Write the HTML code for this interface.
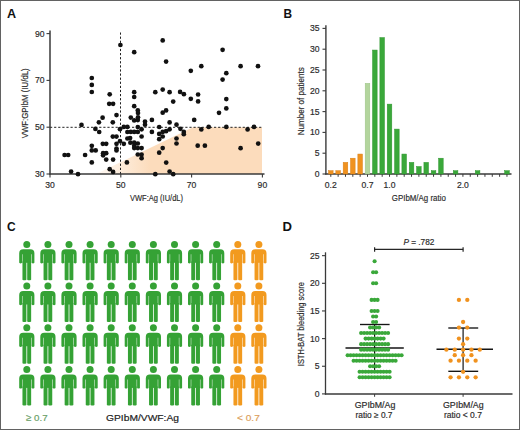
<!DOCTYPE html>
<html><head><meta charset="utf-8"><style>
html,body{margin:0;padding:0;background:#fff;}
body{width:520px;height:430px;overflow:hidden;}
svg{display:block;font-family:"Liberation Sans", sans-serif;}

</style></head><body>
<svg width="520" height="430" viewBox="0 0 520 430">
<rect x="0" y="0" width="520" height="430" fill="#fff"/>
<text transform="translate(6.9,17.5) scale(1.0,1)" font-size="12.6" font-weight="bold" fill="#111">A</text>
<defs><linearGradient id="pg" gradientUnits="userSpaceOnUse" x1="96" y1="0" x2="150" y2="0"><stop offset="0" stop-color="#fcdcbc" stop-opacity="0.15"/><stop offset="1" stop-color="#fcdcbc" stop-opacity="1"/></linearGradient></defs>
<polygon points="96,174 193,127.3 262,127.3 262,174" fill="url(#pg)"/>
<line x1="120.5" y1="32.5" x2="120.5" y2="174" stroke="#222" stroke-width="1.0" stroke-dasharray="2.2,1.9"/>
<line x1="50" y1="127.3" x2="262" y2="127.3" stroke="#222" stroke-width="1.0" stroke-dasharray="2.2,1.9"/>
<line x1="50" y1="30.5" x2="50" y2="174.6" stroke="#3a3a3a" stroke-width="1.5" />
<line x1="49.4" y1="174" x2="264.5" y2="174" stroke="#3a3a3a" stroke-width="1.5" />
<line x1="46.5" y1="174.0" x2="50" y2="174.0" stroke="#3a3a3a" stroke-width="1.1" />
<text x="44.5" y="177.0" font-size="8.6" text-anchor="end" fill="#2c2c2c" stroke="#2c2c2c" stroke-width="0.18" font-weight="normal" font-style="normal" >30</text>
<line x1="46.5" y1="127.2" x2="50" y2="127.2" stroke="#3a3a3a" stroke-width="1.1" />
<text x="44.5" y="130.2" font-size="8.6" text-anchor="end" fill="#2c2c2c" stroke="#2c2c2c" stroke-width="0.18" font-weight="normal" font-style="normal" >50</text>
<line x1="46.5" y1="80.4" x2="50" y2="80.4" stroke="#3a3a3a" stroke-width="1.1" />
<text x="44.5" y="83.4" font-size="8.6" text-anchor="end" fill="#2c2c2c" stroke="#2c2c2c" stroke-width="0.18" font-weight="normal" font-style="normal" >70</text>
<line x1="46.5" y1="33.60000000000002" x2="50" y2="33.60000000000002" stroke="#3a3a3a" stroke-width="1.1" />
<text x="44.5" y="36.60000000000002" font-size="8.6" text-anchor="end" fill="#2c2c2c" stroke="#2c2c2c" stroke-width="0.18" font-weight="normal" font-style="normal" >90</text>
<line x1="50.0" y1="174" x2="50.0" y2="177.5" stroke="#3a3a3a" stroke-width="1.1" />
<text x="50.0" y="188.2" font-size="8.6" text-anchor="middle" fill="#2c2c2c" stroke="#2c2c2c" stroke-width="0.18" font-weight="normal" font-style="normal" >30</text>
<line x1="120.8" y1="174" x2="120.8" y2="177.5" stroke="#3a3a3a" stroke-width="1.1" />
<text x="120.8" y="188.2" font-size="8.6" text-anchor="middle" fill="#2c2c2c" stroke="#2c2c2c" stroke-width="0.18" font-weight="normal" font-style="normal" >50</text>
<line x1="191.6" y1="174" x2="191.6" y2="177.5" stroke="#3a3a3a" stroke-width="1.1" />
<text x="191.6" y="188.2" font-size="8.6" text-anchor="middle" fill="#2c2c2c" stroke="#2c2c2c" stroke-width="0.18" font-weight="normal" font-style="normal" >70</text>
<line x1="262.4" y1="174" x2="262.4" y2="177.5" stroke="#3a3a3a" stroke-width="1.1" />
<text x="262.4" y="188.2" font-size="8.6" text-anchor="middle" fill="#2c2c2c" stroke="#2c2c2c" stroke-width="0.18" font-weight="normal" font-style="normal" >90</text>
<text x="156.5" y="201" font-size="9.5" text-anchor="middle" fill="#2c2c2c" stroke="#2c2c2c" stroke-width="0.18" font-weight="normal" font-style="normal" textLength="53" lengthAdjust="spacingAndGlyphs" >VWF:Ag (IU/dL)</text>
<text transform="translate(28.2,103.3) rotate(-90)" x="0" y="0" font-size="9.6" text-anchor="middle" fill="#2c2c2c" stroke="#2c2c2c" stroke-width="0.18" textLength="70" lengthAdjust="spacingAndGlyphs">VWF:GPIbM (IU/dL)</text>
<circle cx="91.8" cy="78" r="2.35" fill="#111"/>
<circle cx="91.8" cy="84.9" r="2.35" fill="#111"/>
<circle cx="91.8" cy="92" r="2.35" fill="#111"/>
<circle cx="109.7" cy="94.3" r="2.35" fill="#111"/>
<circle cx="109.2" cy="103.8" r="2.35" fill="#111"/>
<circle cx="113.1" cy="103.8" r="2.35" fill="#111"/>
<circle cx="116.5" cy="115.1" r="2.35" fill="#111"/>
<circle cx="102.6" cy="117.7" r="2.35" fill="#111"/>
<circle cx="98.9" cy="122.3" r="2.35" fill="#111"/>
<circle cx="112.8" cy="122.3" r="2.35" fill="#111"/>
<circle cx="81.5" cy="124.9" r="2.35" fill="#111"/>
<circle cx="95.4" cy="128.9" r="2.35" fill="#111"/>
<circle cx="99.2" cy="132" r="2.35" fill="#111"/>
<circle cx="120" cy="129.2" r="2.35" fill="#111"/>
<circle cx="123.8" cy="126.9" r="2.35" fill="#111"/>
<circle cx="127.4" cy="126.9" r="2.35" fill="#111"/>
<circle cx="127.4" cy="132" r="2.35" fill="#111"/>
<circle cx="112.8" cy="136.6" r="2.35" fill="#111"/>
<circle cx="116.5" cy="136.6" r="2.35" fill="#111"/>
<circle cx="127.4" cy="138.5" r="2.35" fill="#111"/>
<circle cx="120" cy="141.2" r="2.35" fill="#111"/>
<circle cx="102.8" cy="143.8" r="2.35" fill="#111"/>
<circle cx="106.2" cy="143.8" r="2.35" fill="#111"/>
<circle cx="116.5" cy="143.8" r="2.35" fill="#111"/>
<circle cx="123.8" cy="143.8" r="2.35" fill="#111"/>
<circle cx="91.8" cy="145.8" r="2.35" fill="#111"/>
<circle cx="116.5" cy="148.5" r="2.35" fill="#111"/>
<circle cx="116.5" cy="150.4" r="2.35" fill="#111"/>
<circle cx="91.8" cy="150.4" r="2.35" fill="#111"/>
<circle cx="95.7" cy="150.4" r="2.35" fill="#111"/>
<circle cx="103.1" cy="153.2" r="2.35" fill="#111"/>
<circle cx="106.2" cy="153.2" r="2.35" fill="#111"/>
<circle cx="103.1" cy="155.3" r="2.35" fill="#111"/>
<circle cx="64.6" cy="155" r="2.35" fill="#111"/>
<circle cx="68.2" cy="155" r="2.35" fill="#111"/>
<circle cx="85.1" cy="155" r="2.35" fill="#111"/>
<circle cx="106.2" cy="159.6" r="2.35" fill="#111"/>
<circle cx="113.1" cy="159.6" r="2.35" fill="#111"/>
<circle cx="91.8" cy="162.4" r="2.35" fill="#111"/>
<circle cx="126.9" cy="162.4" r="2.35" fill="#111"/>
<circle cx="109.7" cy="169.2" r="2.35" fill="#111"/>
<circle cx="113.1" cy="171.9" r="2.35" fill="#111"/>
<circle cx="71.1" cy="171.6" r="2.35" fill="#111"/>
<circle cx="78" cy="174.2" r="2.35" fill="#111"/>
<circle cx="120.4" cy="45" r="2.35" fill="#111"/>
<circle cx="134.2" cy="52.2" r="2.35" fill="#111"/>
<circle cx="162.7" cy="40.4" r="2.35" fill="#111"/>
<circle cx="166.1" cy="61.6" r="2.35" fill="#111"/>
<circle cx="190.8" cy="70.8" r="2.35" fill="#111"/>
<circle cx="134.2" cy="92.2" r="2.35" fill="#111"/>
<circle cx="134.2" cy="97" r="2.35" fill="#111"/>
<circle cx="155.3" cy="92.2" r="2.35" fill="#111"/>
<circle cx="162.7" cy="89.6" r="2.35" fill="#111"/>
<circle cx="169.6" cy="92.2" r="2.35" fill="#111"/>
<circle cx="180.1" cy="91.9" r="2.35" fill="#111"/>
<circle cx="183.9" cy="94.2" r="2.35" fill="#111"/>
<circle cx="190.8" cy="98.8" r="2.35" fill="#111"/>
<circle cx="173.2" cy="101.6" r="2.35" fill="#111"/>
<circle cx="134.2" cy="106.2" r="2.35" fill="#111"/>
<circle cx="137.8" cy="110.4" r="2.35" fill="#111"/>
<circle cx="138" cy="113" r="2.35" fill="#111"/>
<circle cx="166.1" cy="110.4" r="2.35" fill="#111"/>
<circle cx="162.7" cy="112.7" r="2.35" fill="#111"/>
<circle cx="130.8" cy="117.6" r="2.35" fill="#111"/>
<circle cx="134.2" cy="120.4" r="2.35" fill="#111"/>
<circle cx="137.8" cy="120.1" r="2.35" fill="#111"/>
<circle cx="138" cy="117.3" r="2.35" fill="#111"/>
<circle cx="145" cy="121.6" r="2.35" fill="#111"/>
<circle cx="145" cy="124.7" r="2.35" fill="#111"/>
<circle cx="151.9" cy="119.9" r="2.35" fill="#111"/>
<circle cx="169.6" cy="122.4" r="2.35" fill="#111"/>
<circle cx="176.5" cy="124.7" r="2.35" fill="#111"/>
<circle cx="194.2" cy="119.9" r="2.35" fill="#111"/>
<circle cx="137.8" cy="127" r="2.35" fill="#111"/>
<circle cx="141.6" cy="129.3" r="2.35" fill="#111"/>
<circle cx="130.8" cy="131.9" r="2.35" fill="#111"/>
<circle cx="134.2" cy="131.9" r="2.35" fill="#111"/>
<circle cx="137.8" cy="131.9" r="2.35" fill="#111"/>
<circle cx="151.9" cy="131.9" r="2.35" fill="#111"/>
<circle cx="159.2" cy="127" r="2.35" fill="#111"/>
<circle cx="159.2" cy="133.9" r="2.35" fill="#111"/>
<circle cx="162.7" cy="131.9" r="2.35" fill="#111"/>
<circle cx="166.1" cy="131.2" r="2.35" fill="#111"/>
<circle cx="169.6" cy="129.3" r="2.35" fill="#111"/>
<circle cx="180.4" cy="128.8" r="2.35" fill="#111"/>
<circle cx="183.8" cy="131.9" r="2.35" fill="#111"/>
<circle cx="183.8" cy="134.2" r="2.35" fill="#111"/>
<circle cx="141.6" cy="136.5" r="2.35" fill="#111"/>
<circle cx="130.1" cy="138.1" r="2.35" fill="#111"/>
<circle cx="162.7" cy="136.5" r="2.35" fill="#111"/>
<circle cx="159.2" cy="139.2" r="2.35" fill="#111"/>
<circle cx="176.5" cy="138.5" r="2.35" fill="#111"/>
<circle cx="176.5" cy="143.5" r="2.35" fill="#111"/>
<circle cx="130.4" cy="142.7" r="2.35" fill="#111"/>
<circle cx="134.2" cy="142.7" r="2.35" fill="#111"/>
<circle cx="137.8" cy="143.5" r="2.35" fill="#111"/>
<circle cx="134.2" cy="145.8" r="2.35" fill="#111"/>
<circle cx="134.2" cy="148.1" r="2.35" fill="#111"/>
<circle cx="137.8" cy="148.1" r="2.35" fill="#111"/>
<circle cx="141.6" cy="148.1" r="2.35" fill="#111"/>
<circle cx="162.7" cy="148.1" r="2.35" fill="#111"/>
<circle cx="159.2" cy="152.7" r="2.35" fill="#111"/>
<circle cx="137.8" cy="154.5" r="2.35" fill="#111"/>
<circle cx="141.6" cy="154.5" r="2.35" fill="#111"/>
<circle cx="141.6" cy="158.2" r="2.35" fill="#111"/>
<circle cx="166.2" cy="162.6" r="2.35" fill="#111"/>
<circle cx="169.6" cy="171.5" r="2.35" fill="#111"/>
<circle cx="173.2" cy="174.2" r="2.35" fill="#111"/>
<circle cx="155.3" cy="174.2" r="2.35" fill="#111"/>
<circle cx="222.6" cy="49.8" r="2.35" fill="#111"/>
<circle cx="201.3" cy="66.2" r="2.35" fill="#111"/>
<circle cx="240.6" cy="66.2" r="2.35" fill="#111"/>
<circle cx="258" cy="66.2" r="2.35" fill="#111"/>
<circle cx="226.3" cy="73.2" r="2.35" fill="#111"/>
<circle cx="222.6" cy="79.6" r="2.35" fill="#111"/>
<circle cx="198.1" cy="94.5" r="2.35" fill="#111"/>
<circle cx="198.1" cy="101.4" r="2.35" fill="#111"/>
<circle cx="226.3" cy="99.1" r="2.35" fill="#111"/>
<circle cx="226.3" cy="108.4" r="2.35" fill="#111"/>
<circle cx="219" cy="112.8" r="2.35" fill="#111"/>
<circle cx="201.3" cy="129.4" r="2.35" fill="#111"/>
<circle cx="208.7" cy="126.9" r="2.35" fill="#111"/>
<circle cx="226.3" cy="126.9" r="2.35" fill="#111"/>
<circle cx="247.6" cy="129.4" r="2.35" fill="#111"/>
<circle cx="254" cy="126.9" r="2.35" fill="#111"/>
<circle cx="197.7" cy="145.7" r="2.35" fill="#111"/>
<circle cx="204.9" cy="145.7" r="2.35" fill="#111"/>
<circle cx="240.6" cy="148.2" r="2.35" fill="#111"/>
<circle cx="258.2" cy="143.6" r="2.35" fill="#111"/>
<text transform="translate(283.5,17.6) scale(0.9,1)" font-size="13.2" font-weight="bold" fill="#111">B</text>
<line x1="325.9" y1="25.2" x2="325.9" y2="174.6" stroke="#3a3a3a" stroke-width="1.4" />
<line x1="325.2" y1="174" x2="511.5" y2="174" stroke="#3a3a3a" stroke-width="1.3" />
<line x1="322.5" y1="174.0" x2="325.9" y2="174.0" stroke="#3a3a3a" stroke-width="1.1" />
<text x="319.5" y="177.0" font-size="8.6" text-anchor="end" fill="#2c2c2c" stroke="#2c2c2c" stroke-width="0.18" font-weight="normal" font-style="normal" >0</text>
<line x1="322.5" y1="153.2" x2="325.9" y2="153.2" stroke="#3a3a3a" stroke-width="1.1" />
<text x="319.5" y="156.2" font-size="8.6" text-anchor="end" fill="#2c2c2c" stroke="#2c2c2c" stroke-width="0.18" font-weight="normal" font-style="normal" >5</text>
<line x1="322.5" y1="132.4" x2="325.9" y2="132.4" stroke="#3a3a3a" stroke-width="1.1" />
<text x="319.5" y="135.4" font-size="8.6" text-anchor="end" fill="#2c2c2c" stroke="#2c2c2c" stroke-width="0.18" font-weight="normal" font-style="normal" >10</text>
<line x1="322.5" y1="111.6" x2="325.9" y2="111.6" stroke="#3a3a3a" stroke-width="1.1" />
<text x="319.5" y="114.6" font-size="8.6" text-anchor="end" fill="#2c2c2c" stroke="#2c2c2c" stroke-width="0.18" font-weight="normal" font-style="normal" >15</text>
<line x1="322.5" y1="90.8" x2="325.9" y2="90.8" stroke="#3a3a3a" stroke-width="1.1" />
<text x="319.5" y="93.8" font-size="8.6" text-anchor="end" fill="#2c2c2c" stroke="#2c2c2c" stroke-width="0.18" font-weight="normal" font-style="normal" >20</text>
<line x1="322.5" y1="70.0" x2="325.9" y2="70.0" stroke="#3a3a3a" stroke-width="1.1" />
<text x="319.5" y="73.0" font-size="8.6" text-anchor="end" fill="#2c2c2c" stroke="#2c2c2c" stroke-width="0.18" font-weight="normal" font-style="normal" >25</text>
<line x1="322.5" y1="49.19999999999999" x2="325.9" y2="49.19999999999999" stroke="#3a3a3a" stroke-width="1.1" />
<text x="319.5" y="52.19999999999999" font-size="8.6" text-anchor="end" fill="#2c2c2c" stroke="#2c2c2c" stroke-width="0.18" font-weight="normal" font-style="normal" >30</text>
<line x1="322.5" y1="28.400000000000006" x2="325.9" y2="28.400000000000006" stroke="#3a3a3a" stroke-width="1.1" />
<text x="319.5" y="31.400000000000006" font-size="8.6" text-anchor="end" fill="#2c2c2c" stroke="#2c2c2c" stroke-width="0.18" font-weight="normal" font-style="normal" >35</text>
<line x1="330.8" y1="174" x2="330.8" y2="176.8" stroke="#3a3a3a" stroke-width="1.0" />
<rect x="328.50" y="170.69" width="4.6" height="3.31" fill="#f0921f" stroke="#d98018" stroke-width="0.5"/>
<line x1="338.14" y1="174" x2="338.14" y2="176.8" stroke="#3a3a3a" stroke-width="1.0" />
<rect x="335.84" y="170.69" width="4.6" height="3.31" fill="#f0921f" stroke="#d98018" stroke-width="0.5"/>
<line x1="345.48" y1="174" x2="345.48" y2="176.8" stroke="#3a3a3a" stroke-width="1.0" />
<rect x="343.18" y="162.37" width="4.6" height="11.63" fill="#f0921f" stroke="#d98018" stroke-width="0.5"/>
<line x1="352.82" y1="174" x2="352.82" y2="176.8" stroke="#3a3a3a" stroke-width="1.0" />
<rect x="350.52" y="158.21" width="4.6" height="15.79" fill="#f0921f" stroke="#d98018" stroke-width="0.5"/>
<line x1="360.16" y1="174" x2="360.16" y2="176.8" stroke="#3a3a3a" stroke-width="1.0" />
<rect x="357.86" y="154.05" width="4.6" height="19.95" fill="#f0921f" stroke="#d98018" stroke-width="0.5"/>
<line x1="367.5" y1="174" x2="367.5" y2="176.8" stroke="#3a3a3a" stroke-width="1.0" />
<rect x="365.20" y="83.33" width="4.6" height="90.67" fill="#b3d59d" stroke="#9cc385" stroke-width="0.5"/>
<line x1="374.84000000000003" y1="174" x2="374.84000000000003" y2="176.8" stroke="#3a3a3a" stroke-width="1.0" />
<rect x="372.54" y="50.05" width="4.6" height="123.95" fill="#3aa83a" stroke="#2f952f" stroke-width="0.5"/>
<line x1="382.18" y1="174" x2="382.18" y2="176.8" stroke="#3a3a3a" stroke-width="1.0" />
<rect x="379.88" y="37.57" width="4.6" height="136.43" fill="#3aa83a" stroke="#2f952f" stroke-width="0.5"/>
<line x1="389.52" y1="174" x2="389.52" y2="176.8" stroke="#3a3a3a" stroke-width="1.0" />
<rect x="387.22" y="104.13" width="4.6" height="69.87" fill="#3aa83a" stroke="#2f952f" stroke-width="0.5"/>
<line x1="396.86" y1="174" x2="396.86" y2="176.8" stroke="#3a3a3a" stroke-width="1.0" />
<rect x="394.56" y="129.09" width="4.6" height="44.91" fill="#3aa83a" stroke="#2f952f" stroke-width="0.5"/>
<line x1="404.20000000000005" y1="174" x2="404.20000000000005" y2="176.8" stroke="#3a3a3a" stroke-width="1.0" />
<rect x="401.90" y="154.05" width="4.6" height="19.95" fill="#3aa83a" stroke="#2f952f" stroke-width="0.5"/>
<line x1="411.54" y1="174" x2="411.54" y2="176.8" stroke="#3a3a3a" stroke-width="1.0" />
<rect x="409.24" y="162.37" width="4.6" height="11.63" fill="#3aa83a" stroke="#2f952f" stroke-width="0.5"/>
<line x1="418.88" y1="174" x2="418.88" y2="176.8" stroke="#3a3a3a" stroke-width="1.0" />
<rect x="416.58" y="166.53" width="4.6" height="7.47" fill="#3aa83a" stroke="#2f952f" stroke-width="0.5"/>
<line x1="426.22" y1="174" x2="426.22" y2="176.8" stroke="#3a3a3a" stroke-width="1.0" />
<rect x="423.92" y="162.37" width="4.6" height="11.63" fill="#3aa83a" stroke="#2f952f" stroke-width="0.5"/>
<line x1="433.56" y1="174" x2="433.56" y2="176.8" stroke="#3a3a3a" stroke-width="1.0" />
<rect x="431.26" y="170.69" width="4.6" height="3.31" fill="#3aa83a" stroke="#2f952f" stroke-width="0.5"/>
<line x1="440.9" y1="174" x2="440.9" y2="176.8" stroke="#3a3a3a" stroke-width="1.0" />
<rect x="438.60" y="158.21" width="4.6" height="15.79" fill="#3aa83a" stroke="#2f952f" stroke-width="0.5"/>
<line x1="448.24" y1="174" x2="448.24" y2="176.8" stroke="#3a3a3a" stroke-width="1.0" />
<line x1="455.58000000000004" y1="174" x2="455.58000000000004" y2="176.8" stroke="#3a3a3a" stroke-width="1.0" />
<rect x="453.28" y="170.69" width="4.6" height="3.31" fill="#3aa83a" stroke="#2f952f" stroke-width="0.5"/>
<line x1="462.92" y1="174" x2="462.92" y2="176.8" stroke="#3a3a3a" stroke-width="1.0" />
<line x1="470.26" y1="174" x2="470.26" y2="176.8" stroke="#3a3a3a" stroke-width="1.0" />
<line x1="477.6" y1="174" x2="477.6" y2="176.8" stroke="#3a3a3a" stroke-width="1.0" />
<rect x="475.30" y="170.69" width="4.6" height="3.31" fill="#3aa83a" stroke="#2f952f" stroke-width="0.5"/>
<line x1="484.94" y1="174" x2="484.94" y2="176.8" stroke="#3a3a3a" stroke-width="1.0" />
<line x1="492.28" y1="174" x2="492.28" y2="176.8" stroke="#3a3a3a" stroke-width="1.0" />
<line x1="499.62" y1="174" x2="499.62" y2="176.8" stroke="#3a3a3a" stroke-width="1.0" />
<line x1="506.96000000000004" y1="174" x2="506.96000000000004" y2="176.8" stroke="#3a3a3a" stroke-width="1.0" />
<rect x="504.66" y="170.69" width="4.6" height="3.31" fill="#3aa83a" stroke="#2f952f" stroke-width="0.5"/>
<text x="330.8" y="188" font-size="8.6" text-anchor="middle" fill="#2c2c2c" stroke="#2c2c2c" stroke-width="0.18" font-weight="normal" font-style="normal" >0.2</text>
<text x="367.5" y="188" font-size="8.6" text-anchor="middle" fill="#2c2c2c" stroke="#2c2c2c" stroke-width="0.18" font-weight="normal" font-style="normal" >0.7</text>
<text x="389.52" y="188" font-size="8.6" text-anchor="middle" fill="#2c2c2c" stroke="#2c2c2c" stroke-width="0.18" font-weight="normal" font-style="normal" >1.0</text>
<text x="462.92" y="188" font-size="8.6" text-anchor="middle" fill="#2c2c2c" stroke="#2c2c2c" stroke-width="0.18" font-weight="normal" font-style="normal" >2.0</text>
<text x="418.8" y="201.4" font-size="9.5" text-anchor="middle" fill="#2c2c2c" stroke="#2c2c2c" stroke-width="0.18" font-weight="normal" font-style="normal" textLength="54" lengthAdjust="spacingAndGlyphs" >GPIbM/Ag ratio</text>
<text transform="translate(304,101.3) rotate(-90)" x="0" y="0" font-size="9.6" text-anchor="middle" fill="#2c2c2c" stroke="#2c2c2c" stroke-width="0.18" textLength="68" lengthAdjust="spacingAndGlyphs">Number of patients</text>
<text transform="translate(7.0,230.9) scale(0.92,1)" font-size="13" font-weight="bold" fill="#111">C</text>
<circle cx="26.8" cy="244.4" r="3.5" fill="#35a235"/><path d="M19.200000000000003,253.3 Q19.200000000000003,249.3 23.200000000000003,249.3 L30.4,249.3 Q34.4,249.3 34.4,253.3 L34.4,262.8 Q33.0,264.2 31.599999999999998,262.8 L31.599999999999998,254.3 L22.000000000000004,254.3 L22.000000000000004,262.8 Q20.6,264.2 19.200000000000003,262.8 Z" fill="#35a235"/><rect x="22.450000000000003" y="250.3" width="8.7" height="12.5" fill="#35a235"/><path d="M22.450000000000003,261.4 L26.400000000000002,261.4 L26.400000000000002,279.8 Q24.400000000000002,280.8 22.450000000000003,279.8 Z" fill="#35a235"/><path d="M27.2,261.4 L31.15,261.4 L31.15,279.8 Q29.2,280.8 27.2,279.8 Z" fill="#35a235"/>
<circle cx="47.900000000000006" cy="244.4" r="3.5" fill="#35a235"/><path d="M40.300000000000004,253.3 Q40.300000000000004,249.3 44.300000000000004,249.3 L51.50000000000001,249.3 Q55.50000000000001,249.3 55.50000000000001,253.3 L55.50000000000001,262.8 Q54.10000000000001,264.2 52.70000000000001,262.8 L52.70000000000001,254.3 L43.1,254.3 L43.1,262.8 Q41.7,264.2 40.300000000000004,262.8 Z" fill="#35a235"/><rect x="43.550000000000004" y="250.3" width="8.7" height="12.5" fill="#35a235"/><path d="M43.550000000000004,261.4 L47.50000000000001,261.4 L47.50000000000001,279.8 Q45.50000000000001,280.8 43.550000000000004,279.8 Z" fill="#35a235"/><path d="M48.300000000000004,261.4 L52.25000000000001,261.4 L52.25000000000001,279.8 Q50.300000000000004,280.8 48.300000000000004,279.8 Z" fill="#35a235"/>
<circle cx="69.0" cy="244.4" r="3.5" fill="#35a235"/><path d="M61.4,253.3 Q61.4,249.3 65.4,249.3 L72.6,249.3 Q76.6,249.3 76.6,253.3 L76.6,262.8 Q75.19999999999999,264.2 73.8,262.8 L73.8,254.3 L64.2,254.3 L64.2,262.8 Q62.8,264.2 61.4,262.8 Z" fill="#35a235"/><rect x="64.65" y="250.3" width="8.7" height="12.5" fill="#35a235"/><path d="M64.65,261.4 L68.6,261.4 L68.6,279.8 Q66.6,280.8 64.65,279.8 Z" fill="#35a235"/><path d="M69.4,261.4 L73.35,261.4 L73.35,279.8 Q71.4,280.8 69.4,279.8 Z" fill="#35a235"/>
<circle cx="90.10000000000001" cy="244.4" r="3.5" fill="#35a235"/><path d="M82.50000000000001,253.3 Q82.50000000000001,249.3 86.50000000000001,249.3 L93.7,249.3 Q97.7,249.3 97.7,253.3 L97.7,262.8 Q96.3,264.2 94.9,262.8 L94.9,254.3 L85.30000000000001,254.3 L85.30000000000001,262.8 Q83.90000000000002,264.2 82.50000000000001,262.8 Z" fill="#35a235"/><rect x="85.75000000000001" y="250.3" width="8.7" height="12.5" fill="#35a235"/><path d="M85.75000000000001,261.4 L89.7,261.4 L89.7,279.8 Q87.7,280.8 85.75000000000001,279.8 Z" fill="#35a235"/><path d="M90.50000000000001,261.4 L94.45,261.4 L94.45,279.8 Q92.50000000000001,280.8 90.50000000000001,279.8 Z" fill="#35a235"/>
<circle cx="111.2" cy="244.4" r="3.5" fill="#35a235"/><path d="M103.60000000000001,253.3 Q103.60000000000001,249.3 107.60000000000001,249.3 L114.8,249.3 Q118.8,249.3 118.8,253.3 L118.8,262.8 Q117.39999999999999,264.2 116.0,262.8 L116.0,254.3 L106.4,254.3 L106.4,262.8 Q105.00000000000001,264.2 103.60000000000001,262.8 Z" fill="#35a235"/><rect x="106.85000000000001" y="250.3" width="8.7" height="12.5" fill="#35a235"/><path d="M106.85000000000001,261.4 L110.8,261.4 L110.8,279.8 Q108.8,280.8 106.85000000000001,279.8 Z" fill="#35a235"/><path d="M111.60000000000001,261.4 L115.55,261.4 L115.55,279.8 Q113.60000000000001,280.8 111.60000000000001,279.8 Z" fill="#35a235"/>
<circle cx="132.3" cy="244.4" r="3.5" fill="#35a235"/><path d="M124.70000000000002,253.3 Q124.70000000000002,249.3 128.70000000000002,249.3 L135.9,249.3 Q139.9,249.3 139.9,253.3 L139.9,262.8 Q138.5,264.2 137.1,262.8 L137.1,254.3 L127.50000000000001,254.3 L127.50000000000001,262.8 Q126.10000000000002,264.2 124.70000000000002,262.8 Z" fill="#35a235"/><rect x="127.95000000000002" y="250.3" width="8.7" height="12.5" fill="#35a235"/><path d="M127.95000000000002,261.4 L131.9,261.4 L131.9,279.8 Q129.9,280.8 127.95000000000002,279.8 Z" fill="#35a235"/><path d="M132.70000000000002,261.4 L136.65,261.4 L136.65,279.8 Q134.70000000000002,280.8 132.70000000000002,279.8 Z" fill="#35a235"/>
<circle cx="153.4" cy="244.4" r="3.5" fill="#35a235"/><path d="M145.8,253.3 Q145.8,249.3 149.8,249.3 L157.0,249.3 Q161.0,249.3 161.0,253.3 L161.0,262.8 Q159.6,264.2 158.2,262.8 L158.2,254.3 L148.60000000000002,254.3 L148.60000000000002,262.8 Q147.20000000000002,264.2 145.8,262.8 Z" fill="#35a235"/><rect x="149.05" y="250.3" width="8.7" height="12.5" fill="#35a235"/><path d="M149.05,261.4 L153.0,261.4 L153.0,279.8 Q151.0,280.8 149.05,279.8 Z" fill="#35a235"/><path d="M153.8,261.4 L157.75,261.4 L157.75,279.8 Q155.8,280.8 153.8,279.8 Z" fill="#35a235"/>
<circle cx="174.50000000000003" cy="244.4" r="3.5" fill="#35a235"/><path d="M166.90000000000003,253.3 Q166.90000000000003,249.3 170.90000000000003,249.3 L178.10000000000002,249.3 Q182.10000000000002,249.3 182.10000000000002,253.3 L182.10000000000002,262.8 Q180.70000000000002,264.2 179.3,262.8 L179.3,254.3 L169.70000000000005,254.3 L169.70000000000005,262.8 Q168.30000000000004,264.2 166.90000000000003,262.8 Z" fill="#35a235"/><rect x="170.15000000000003" y="250.3" width="8.7" height="12.5" fill="#35a235"/><path d="M170.15000000000003,261.4 L174.10000000000002,261.4 L174.10000000000002,279.8 Q172.10000000000002,280.8 170.15000000000003,279.8 Z" fill="#35a235"/><path d="M174.90000000000003,261.4 L178.85000000000002,261.4 L178.85000000000002,279.8 Q176.90000000000003,280.8 174.90000000000003,279.8 Z" fill="#35a235"/>
<circle cx="195.60000000000002" cy="244.4" r="3.5" fill="#35a235"/><path d="M188.00000000000003,253.3 Q188.00000000000003,249.3 192.00000000000003,249.3 L199.20000000000002,249.3 Q203.20000000000002,249.3 203.20000000000002,253.3 L203.20000000000002,262.8 Q201.8,264.2 200.4,262.8 L200.4,254.3 L190.80000000000004,254.3 L190.80000000000004,262.8 Q189.40000000000003,264.2 188.00000000000003,262.8 Z" fill="#35a235"/><rect x="191.25000000000003" y="250.3" width="8.7" height="12.5" fill="#35a235"/><path d="M191.25000000000003,261.4 L195.20000000000002,261.4 L195.20000000000002,279.8 Q193.20000000000002,280.8 191.25000000000003,279.8 Z" fill="#35a235"/><path d="M196.00000000000003,261.4 L199.95000000000002,261.4 L199.95000000000002,279.8 Q198.00000000000003,280.8 196.00000000000003,279.8 Z" fill="#35a235"/>
<circle cx="216.70000000000002" cy="244.4" r="3.5" fill="#35a235"/><path d="M209.10000000000002,253.3 Q209.10000000000002,249.3 213.10000000000002,249.3 L220.3,249.3 Q224.3,249.3 224.3,253.3 L224.3,262.8 Q222.9,264.2 221.5,262.8 L221.5,254.3 L211.90000000000003,254.3 L211.90000000000003,262.8 Q210.50000000000003,264.2 209.10000000000002,262.8 Z" fill="#35a235"/><rect x="212.35000000000002" y="250.3" width="8.7" height="12.5" fill="#35a235"/><path d="M212.35000000000002,261.4 L216.3,261.4 L216.3,279.8 Q214.3,280.8 212.35000000000002,279.8 Z" fill="#35a235"/><path d="M217.10000000000002,261.4 L221.05,261.4 L221.05,279.8 Q219.10000000000002,280.8 217.10000000000002,279.8 Z" fill="#35a235"/>
<circle cx="237.8" cy="244.4" r="3.5" fill="#f29a1f"/><path d="M230.20000000000002,253.3 Q230.20000000000002,249.3 234.20000000000002,249.3 L241.4,249.3 Q245.4,249.3 245.4,253.3 L245.4,262.8 Q244.0,264.2 242.6,262.8 L242.6,254.3 L233.00000000000003,254.3 L233.00000000000003,262.8 Q231.60000000000002,264.2 230.20000000000002,262.8 Z" fill="#f29a1f"/><rect x="233.45000000000002" y="250.3" width="8.7" height="12.5" fill="#f29a1f"/><path d="M233.45000000000002,261.4 L237.4,261.4 L237.4,279.8 Q235.4,280.8 233.45000000000002,279.8 Z" fill="#f29a1f"/><path d="M238.20000000000002,261.4 L242.15,261.4 L242.15,279.8 Q240.20000000000002,280.8 238.20000000000002,279.8 Z" fill="#f29a1f"/>
<circle cx="258.90000000000003" cy="244.4" r="3.5" fill="#f29a1f"/><path d="M251.30000000000004,253.3 Q251.30000000000004,249.3 255.30000000000004,249.3 L262.50000000000006,249.3 Q266.50000000000006,249.3 266.50000000000006,253.3 L266.50000000000006,262.8 Q265.1000000000001,264.2 263.70000000000005,262.8 L263.70000000000005,254.3 L254.10000000000005,254.3 L254.10000000000005,262.8 Q252.70000000000005,264.2 251.30000000000004,262.8 Z" fill="#f29a1f"/><rect x="254.55000000000004" y="250.3" width="8.7" height="12.5" fill="#f29a1f"/><path d="M254.55000000000004,261.4 L258.50000000000006,261.4 L258.50000000000006,279.8 Q256.50000000000006,280.8 254.55000000000004,279.8 Z" fill="#f29a1f"/><path d="M259.3,261.4 L263.25000000000006,261.4 L263.25000000000006,279.8 Q261.3,280.8 259.3,279.8 Z" fill="#f29a1f"/>
<circle cx="26.8" cy="286.1" r="3.5" fill="#35a235"/><path d="M19.200000000000003,295.0 Q19.200000000000003,291.0 23.200000000000003,291.0 L30.4,291.0 Q34.4,291.0 34.4,295.0 L34.4,304.5 Q33.0,305.90000000000003 31.599999999999998,304.5 L31.599999999999998,296.0 L22.000000000000004,296.0 L22.000000000000004,304.5 Q20.6,305.90000000000003 19.200000000000003,304.5 Z" fill="#35a235"/><rect x="22.450000000000003" y="292.0" width="8.7" height="12.5" fill="#35a235"/><path d="M22.450000000000003,303.1 L26.400000000000002,303.1 L26.400000000000002,321.5 Q24.400000000000002,322.5 22.450000000000003,321.5 Z" fill="#35a235"/><path d="M27.2,303.1 L31.15,303.1 L31.15,321.5 Q29.2,322.5 27.2,321.5 Z" fill="#35a235"/>
<circle cx="47.900000000000006" cy="286.1" r="3.5" fill="#35a235"/><path d="M40.300000000000004,295.0 Q40.300000000000004,291.0 44.300000000000004,291.0 L51.50000000000001,291.0 Q55.50000000000001,291.0 55.50000000000001,295.0 L55.50000000000001,304.5 Q54.10000000000001,305.90000000000003 52.70000000000001,304.5 L52.70000000000001,296.0 L43.1,296.0 L43.1,304.5 Q41.7,305.90000000000003 40.300000000000004,304.5 Z" fill="#35a235"/><rect x="43.550000000000004" y="292.0" width="8.7" height="12.5" fill="#35a235"/><path d="M43.550000000000004,303.1 L47.50000000000001,303.1 L47.50000000000001,321.5 Q45.50000000000001,322.5 43.550000000000004,321.5 Z" fill="#35a235"/><path d="M48.300000000000004,303.1 L52.25000000000001,303.1 L52.25000000000001,321.5 Q50.300000000000004,322.5 48.300000000000004,321.5 Z" fill="#35a235"/>
<circle cx="69.0" cy="286.1" r="3.5" fill="#35a235"/><path d="M61.4,295.0 Q61.4,291.0 65.4,291.0 L72.6,291.0 Q76.6,291.0 76.6,295.0 L76.6,304.5 Q75.19999999999999,305.90000000000003 73.8,304.5 L73.8,296.0 L64.2,296.0 L64.2,304.5 Q62.8,305.90000000000003 61.4,304.5 Z" fill="#35a235"/><rect x="64.65" y="292.0" width="8.7" height="12.5" fill="#35a235"/><path d="M64.65,303.1 L68.6,303.1 L68.6,321.5 Q66.6,322.5 64.65,321.5 Z" fill="#35a235"/><path d="M69.4,303.1 L73.35,303.1 L73.35,321.5 Q71.4,322.5 69.4,321.5 Z" fill="#35a235"/>
<circle cx="90.10000000000001" cy="286.1" r="3.5" fill="#35a235"/><path d="M82.50000000000001,295.0 Q82.50000000000001,291.0 86.50000000000001,291.0 L93.7,291.0 Q97.7,291.0 97.7,295.0 L97.7,304.5 Q96.3,305.90000000000003 94.9,304.5 L94.9,296.0 L85.30000000000001,296.0 L85.30000000000001,304.5 Q83.90000000000002,305.90000000000003 82.50000000000001,304.5 Z" fill="#35a235"/><rect x="85.75000000000001" y="292.0" width="8.7" height="12.5" fill="#35a235"/><path d="M85.75000000000001,303.1 L89.7,303.1 L89.7,321.5 Q87.7,322.5 85.75000000000001,321.5 Z" fill="#35a235"/><path d="M90.50000000000001,303.1 L94.45,303.1 L94.45,321.5 Q92.50000000000001,322.5 90.50000000000001,321.5 Z" fill="#35a235"/>
<circle cx="111.2" cy="286.1" r="3.5" fill="#35a235"/><path d="M103.60000000000001,295.0 Q103.60000000000001,291.0 107.60000000000001,291.0 L114.8,291.0 Q118.8,291.0 118.8,295.0 L118.8,304.5 Q117.39999999999999,305.90000000000003 116.0,304.5 L116.0,296.0 L106.4,296.0 L106.4,304.5 Q105.00000000000001,305.90000000000003 103.60000000000001,304.5 Z" fill="#35a235"/><rect x="106.85000000000001" y="292.0" width="8.7" height="12.5" fill="#35a235"/><path d="M106.85000000000001,303.1 L110.8,303.1 L110.8,321.5 Q108.8,322.5 106.85000000000001,321.5 Z" fill="#35a235"/><path d="M111.60000000000001,303.1 L115.55,303.1 L115.55,321.5 Q113.60000000000001,322.5 111.60000000000001,321.5 Z" fill="#35a235"/>
<circle cx="132.3" cy="286.1" r="3.5" fill="#35a235"/><path d="M124.70000000000002,295.0 Q124.70000000000002,291.0 128.70000000000002,291.0 L135.9,291.0 Q139.9,291.0 139.9,295.0 L139.9,304.5 Q138.5,305.90000000000003 137.1,304.5 L137.1,296.0 L127.50000000000001,296.0 L127.50000000000001,304.5 Q126.10000000000002,305.90000000000003 124.70000000000002,304.5 Z" fill="#35a235"/><rect x="127.95000000000002" y="292.0" width="8.7" height="12.5" fill="#35a235"/><path d="M127.95000000000002,303.1 L131.9,303.1 L131.9,321.5 Q129.9,322.5 127.95000000000002,321.5 Z" fill="#35a235"/><path d="M132.70000000000002,303.1 L136.65,303.1 L136.65,321.5 Q134.70000000000002,322.5 132.70000000000002,321.5 Z" fill="#35a235"/>
<circle cx="153.4" cy="286.1" r="3.5" fill="#35a235"/><path d="M145.8,295.0 Q145.8,291.0 149.8,291.0 L157.0,291.0 Q161.0,291.0 161.0,295.0 L161.0,304.5 Q159.6,305.90000000000003 158.2,304.5 L158.2,296.0 L148.60000000000002,296.0 L148.60000000000002,304.5 Q147.20000000000002,305.90000000000003 145.8,304.5 Z" fill="#35a235"/><rect x="149.05" y="292.0" width="8.7" height="12.5" fill="#35a235"/><path d="M149.05,303.1 L153.0,303.1 L153.0,321.5 Q151.0,322.5 149.05,321.5 Z" fill="#35a235"/><path d="M153.8,303.1 L157.75,303.1 L157.75,321.5 Q155.8,322.5 153.8,321.5 Z" fill="#35a235"/>
<circle cx="174.50000000000003" cy="286.1" r="3.5" fill="#35a235"/><path d="M166.90000000000003,295.0 Q166.90000000000003,291.0 170.90000000000003,291.0 L178.10000000000002,291.0 Q182.10000000000002,291.0 182.10000000000002,295.0 L182.10000000000002,304.5 Q180.70000000000002,305.90000000000003 179.3,304.5 L179.3,296.0 L169.70000000000005,296.0 L169.70000000000005,304.5 Q168.30000000000004,305.90000000000003 166.90000000000003,304.5 Z" fill="#35a235"/><rect x="170.15000000000003" y="292.0" width="8.7" height="12.5" fill="#35a235"/><path d="M170.15000000000003,303.1 L174.10000000000002,303.1 L174.10000000000002,321.5 Q172.10000000000002,322.5 170.15000000000003,321.5 Z" fill="#35a235"/><path d="M174.90000000000003,303.1 L178.85000000000002,303.1 L178.85000000000002,321.5 Q176.90000000000003,322.5 174.90000000000003,321.5 Z" fill="#35a235"/>
<circle cx="195.60000000000002" cy="286.1" r="3.5" fill="#35a235"/><path d="M188.00000000000003,295.0 Q188.00000000000003,291.0 192.00000000000003,291.0 L199.20000000000002,291.0 Q203.20000000000002,291.0 203.20000000000002,295.0 L203.20000000000002,304.5 Q201.8,305.90000000000003 200.4,304.5 L200.4,296.0 L190.80000000000004,296.0 L190.80000000000004,304.5 Q189.40000000000003,305.90000000000003 188.00000000000003,304.5 Z" fill="#35a235"/><rect x="191.25000000000003" y="292.0" width="8.7" height="12.5" fill="#35a235"/><path d="M191.25000000000003,303.1 L195.20000000000002,303.1 L195.20000000000002,321.5 Q193.20000000000002,322.5 191.25000000000003,321.5 Z" fill="#35a235"/><path d="M196.00000000000003,303.1 L199.95000000000002,303.1 L199.95000000000002,321.5 Q198.00000000000003,322.5 196.00000000000003,321.5 Z" fill="#35a235"/>
<circle cx="216.70000000000002" cy="286.1" r="3.5" fill="#35a235"/><path d="M209.10000000000002,295.0 Q209.10000000000002,291.0 213.10000000000002,291.0 L220.3,291.0 Q224.3,291.0 224.3,295.0 L224.3,304.5 Q222.9,305.90000000000003 221.5,304.5 L221.5,296.0 L211.90000000000003,296.0 L211.90000000000003,304.5 Q210.50000000000003,305.90000000000003 209.10000000000002,304.5 Z" fill="#35a235"/><rect x="212.35000000000002" y="292.0" width="8.7" height="12.5" fill="#35a235"/><path d="M212.35000000000002,303.1 L216.3,303.1 L216.3,321.5 Q214.3,322.5 212.35000000000002,321.5 Z" fill="#35a235"/><path d="M217.10000000000002,303.1 L221.05,303.1 L221.05,321.5 Q219.10000000000002,322.5 217.10000000000002,321.5 Z" fill="#35a235"/>
<circle cx="237.8" cy="286.1" r="3.5" fill="#f29a1f"/><path d="M230.20000000000002,295.0 Q230.20000000000002,291.0 234.20000000000002,291.0 L241.4,291.0 Q245.4,291.0 245.4,295.0 L245.4,304.5 Q244.0,305.90000000000003 242.6,304.5 L242.6,296.0 L233.00000000000003,296.0 L233.00000000000003,304.5 Q231.60000000000002,305.90000000000003 230.20000000000002,304.5 Z" fill="#f29a1f"/><rect x="233.45000000000002" y="292.0" width="8.7" height="12.5" fill="#f29a1f"/><path d="M233.45000000000002,303.1 L237.4,303.1 L237.4,321.5 Q235.4,322.5 233.45000000000002,321.5 Z" fill="#f29a1f"/><path d="M238.20000000000002,303.1 L242.15,303.1 L242.15,321.5 Q240.20000000000002,322.5 238.20000000000002,321.5 Z" fill="#f29a1f"/>
<circle cx="258.90000000000003" cy="286.1" r="3.5" fill="#f29a1f"/><path d="M251.30000000000004,295.0 Q251.30000000000004,291.0 255.30000000000004,291.0 L262.50000000000006,291.0 Q266.50000000000006,291.0 266.50000000000006,295.0 L266.50000000000006,304.5 Q265.1000000000001,305.90000000000003 263.70000000000005,304.5 L263.70000000000005,296.0 L254.10000000000005,296.0 L254.10000000000005,304.5 Q252.70000000000005,305.90000000000003 251.30000000000004,304.5 Z" fill="#f29a1f"/><rect x="254.55000000000004" y="292.0" width="8.7" height="12.5" fill="#f29a1f"/><path d="M254.55000000000004,303.1 L258.50000000000006,303.1 L258.50000000000006,321.5 Q256.50000000000006,322.5 254.55000000000004,321.5 Z" fill="#f29a1f"/><path d="M259.3,303.1 L263.25000000000006,303.1 L263.25000000000006,321.5 Q261.3,322.5 259.3,321.5 Z" fill="#f29a1f"/>
<circle cx="26.8" cy="327.8" r="3.5" fill="#35a235"/><path d="M19.200000000000003,336.7 Q19.200000000000003,332.7 23.200000000000003,332.7 L30.4,332.7 Q34.4,332.7 34.4,336.7 L34.4,346.2 Q33.0,347.6 31.599999999999998,346.2 L31.599999999999998,337.7 L22.000000000000004,337.7 L22.000000000000004,346.2 Q20.6,347.6 19.200000000000003,346.2 Z" fill="#35a235"/><rect x="22.450000000000003" y="333.7" width="8.7" height="12.5" fill="#35a235"/><path d="M22.450000000000003,344.8 L26.400000000000002,344.8 L26.400000000000002,363.2 Q24.400000000000002,364.2 22.450000000000003,363.2 Z" fill="#35a235"/><path d="M27.2,344.8 L31.15,344.8 L31.15,363.2 Q29.2,364.2 27.2,363.2 Z" fill="#35a235"/>
<circle cx="47.900000000000006" cy="327.8" r="3.5" fill="#35a235"/><path d="M40.300000000000004,336.7 Q40.300000000000004,332.7 44.300000000000004,332.7 L51.50000000000001,332.7 Q55.50000000000001,332.7 55.50000000000001,336.7 L55.50000000000001,346.2 Q54.10000000000001,347.6 52.70000000000001,346.2 L52.70000000000001,337.7 L43.1,337.7 L43.1,346.2 Q41.7,347.6 40.300000000000004,346.2 Z" fill="#35a235"/><rect x="43.550000000000004" y="333.7" width="8.7" height="12.5" fill="#35a235"/><path d="M43.550000000000004,344.8 L47.50000000000001,344.8 L47.50000000000001,363.2 Q45.50000000000001,364.2 43.550000000000004,363.2 Z" fill="#35a235"/><path d="M48.300000000000004,344.8 L52.25000000000001,344.8 L52.25000000000001,363.2 Q50.300000000000004,364.2 48.300000000000004,363.2 Z" fill="#35a235"/>
<circle cx="69.0" cy="327.8" r="3.5" fill="#35a235"/><path d="M61.4,336.7 Q61.4,332.7 65.4,332.7 L72.6,332.7 Q76.6,332.7 76.6,336.7 L76.6,346.2 Q75.19999999999999,347.6 73.8,346.2 L73.8,337.7 L64.2,337.7 L64.2,346.2 Q62.8,347.6 61.4,346.2 Z" fill="#35a235"/><rect x="64.65" y="333.7" width="8.7" height="12.5" fill="#35a235"/><path d="M64.65,344.8 L68.6,344.8 L68.6,363.2 Q66.6,364.2 64.65,363.2 Z" fill="#35a235"/><path d="M69.4,344.8 L73.35,344.8 L73.35,363.2 Q71.4,364.2 69.4,363.2 Z" fill="#35a235"/>
<circle cx="90.10000000000001" cy="327.8" r="3.5" fill="#35a235"/><path d="M82.50000000000001,336.7 Q82.50000000000001,332.7 86.50000000000001,332.7 L93.7,332.7 Q97.7,332.7 97.7,336.7 L97.7,346.2 Q96.3,347.6 94.9,346.2 L94.9,337.7 L85.30000000000001,337.7 L85.30000000000001,346.2 Q83.90000000000002,347.6 82.50000000000001,346.2 Z" fill="#35a235"/><rect x="85.75000000000001" y="333.7" width="8.7" height="12.5" fill="#35a235"/><path d="M85.75000000000001,344.8 L89.7,344.8 L89.7,363.2 Q87.7,364.2 85.75000000000001,363.2 Z" fill="#35a235"/><path d="M90.50000000000001,344.8 L94.45,344.8 L94.45,363.2 Q92.50000000000001,364.2 90.50000000000001,363.2 Z" fill="#35a235"/>
<circle cx="111.2" cy="327.8" r="3.5" fill="#35a235"/><path d="M103.60000000000001,336.7 Q103.60000000000001,332.7 107.60000000000001,332.7 L114.8,332.7 Q118.8,332.7 118.8,336.7 L118.8,346.2 Q117.39999999999999,347.6 116.0,346.2 L116.0,337.7 L106.4,337.7 L106.4,346.2 Q105.00000000000001,347.6 103.60000000000001,346.2 Z" fill="#35a235"/><rect x="106.85000000000001" y="333.7" width="8.7" height="12.5" fill="#35a235"/><path d="M106.85000000000001,344.8 L110.8,344.8 L110.8,363.2 Q108.8,364.2 106.85000000000001,363.2 Z" fill="#35a235"/><path d="M111.60000000000001,344.8 L115.55,344.8 L115.55,363.2 Q113.60000000000001,364.2 111.60000000000001,363.2 Z" fill="#35a235"/>
<circle cx="132.3" cy="327.8" r="3.5" fill="#35a235"/><path d="M124.70000000000002,336.7 Q124.70000000000002,332.7 128.70000000000002,332.7 L135.9,332.7 Q139.9,332.7 139.9,336.7 L139.9,346.2 Q138.5,347.6 137.1,346.2 L137.1,337.7 L127.50000000000001,337.7 L127.50000000000001,346.2 Q126.10000000000002,347.6 124.70000000000002,346.2 Z" fill="#35a235"/><rect x="127.95000000000002" y="333.7" width="8.7" height="12.5" fill="#35a235"/><path d="M127.95000000000002,344.8 L131.9,344.8 L131.9,363.2 Q129.9,364.2 127.95000000000002,363.2 Z" fill="#35a235"/><path d="M132.70000000000002,344.8 L136.65,344.8 L136.65,363.2 Q134.70000000000002,364.2 132.70000000000002,363.2 Z" fill="#35a235"/>
<circle cx="153.4" cy="327.8" r="3.5" fill="#35a235"/><path d="M145.8,336.7 Q145.8,332.7 149.8,332.7 L157.0,332.7 Q161.0,332.7 161.0,336.7 L161.0,346.2 Q159.6,347.6 158.2,346.2 L158.2,337.7 L148.60000000000002,337.7 L148.60000000000002,346.2 Q147.20000000000002,347.6 145.8,346.2 Z" fill="#35a235"/><rect x="149.05" y="333.7" width="8.7" height="12.5" fill="#35a235"/><path d="M149.05,344.8 L153.0,344.8 L153.0,363.2 Q151.0,364.2 149.05,363.2 Z" fill="#35a235"/><path d="M153.8,344.8 L157.75,344.8 L157.75,363.2 Q155.8,364.2 153.8,363.2 Z" fill="#35a235"/>
<circle cx="174.50000000000003" cy="327.8" r="3.5" fill="#35a235"/><path d="M166.90000000000003,336.7 Q166.90000000000003,332.7 170.90000000000003,332.7 L178.10000000000002,332.7 Q182.10000000000002,332.7 182.10000000000002,336.7 L182.10000000000002,346.2 Q180.70000000000002,347.6 179.3,346.2 L179.3,337.7 L169.70000000000005,337.7 L169.70000000000005,346.2 Q168.30000000000004,347.6 166.90000000000003,346.2 Z" fill="#35a235"/><rect x="170.15000000000003" y="333.7" width="8.7" height="12.5" fill="#35a235"/><path d="M170.15000000000003,344.8 L174.10000000000002,344.8 L174.10000000000002,363.2 Q172.10000000000002,364.2 170.15000000000003,363.2 Z" fill="#35a235"/><path d="M174.90000000000003,344.8 L178.85000000000002,344.8 L178.85000000000002,363.2 Q176.90000000000003,364.2 174.90000000000003,363.2 Z" fill="#35a235"/>
<circle cx="195.60000000000002" cy="327.8" r="3.5" fill="#35a235"/><path d="M188.00000000000003,336.7 Q188.00000000000003,332.7 192.00000000000003,332.7 L199.20000000000002,332.7 Q203.20000000000002,332.7 203.20000000000002,336.7 L203.20000000000002,346.2 Q201.8,347.6 200.4,346.2 L200.4,337.7 L190.80000000000004,337.7 L190.80000000000004,346.2 Q189.40000000000003,347.6 188.00000000000003,346.2 Z" fill="#35a235"/><rect x="191.25000000000003" y="333.7" width="8.7" height="12.5" fill="#35a235"/><path d="M191.25000000000003,344.8 L195.20000000000002,344.8 L195.20000000000002,363.2 Q193.20000000000002,364.2 191.25000000000003,363.2 Z" fill="#35a235"/><path d="M196.00000000000003,344.8 L199.95000000000002,344.8 L199.95000000000002,363.2 Q198.00000000000003,364.2 196.00000000000003,363.2 Z" fill="#35a235"/>
<circle cx="216.70000000000002" cy="327.8" r="3.5" fill="#35a235"/><path d="M209.10000000000002,336.7 Q209.10000000000002,332.7 213.10000000000002,332.7 L220.3,332.7 Q224.3,332.7 224.3,336.7 L224.3,346.2 Q222.9,347.6 221.5,346.2 L221.5,337.7 L211.90000000000003,337.7 L211.90000000000003,346.2 Q210.50000000000003,347.6 209.10000000000002,346.2 Z" fill="#35a235"/><rect x="212.35000000000002" y="333.7" width="8.7" height="12.5" fill="#35a235"/><path d="M212.35000000000002,344.8 L216.3,344.8 L216.3,363.2 Q214.3,364.2 212.35000000000002,363.2 Z" fill="#35a235"/><path d="M217.10000000000002,344.8 L221.05,344.8 L221.05,363.2 Q219.10000000000002,364.2 217.10000000000002,363.2 Z" fill="#35a235"/>
<circle cx="237.8" cy="327.8" r="3.5" fill="#f29a1f"/><path d="M230.20000000000002,336.7 Q230.20000000000002,332.7 234.20000000000002,332.7 L241.4,332.7 Q245.4,332.7 245.4,336.7 L245.4,346.2 Q244.0,347.6 242.6,346.2 L242.6,337.7 L233.00000000000003,337.7 L233.00000000000003,346.2 Q231.60000000000002,347.6 230.20000000000002,346.2 Z" fill="#f29a1f"/><rect x="233.45000000000002" y="333.7" width="8.7" height="12.5" fill="#f29a1f"/><path d="M233.45000000000002,344.8 L237.4,344.8 L237.4,363.2 Q235.4,364.2 233.45000000000002,363.2 Z" fill="#f29a1f"/><path d="M238.20000000000002,344.8 L242.15,344.8 L242.15,363.2 Q240.20000000000002,364.2 238.20000000000002,363.2 Z" fill="#f29a1f"/>
<circle cx="258.90000000000003" cy="327.8" r="3.5" fill="#f29a1f"/><path d="M251.30000000000004,336.7 Q251.30000000000004,332.7 255.30000000000004,332.7 L262.50000000000006,332.7 Q266.50000000000006,332.7 266.50000000000006,336.7 L266.50000000000006,346.2 Q265.1000000000001,347.6 263.70000000000005,346.2 L263.70000000000005,337.7 L254.10000000000005,337.7 L254.10000000000005,346.2 Q252.70000000000005,347.6 251.30000000000004,346.2 Z" fill="#f29a1f"/><rect x="254.55000000000004" y="333.7" width="8.7" height="12.5" fill="#f29a1f"/><path d="M254.55000000000004,344.8 L258.50000000000006,344.8 L258.50000000000006,363.2 Q256.50000000000006,364.2 254.55000000000004,363.2 Z" fill="#f29a1f"/><path d="M259.3,344.8 L263.25000000000006,344.8 L263.25000000000006,363.2 Q261.3,364.2 259.3,363.2 Z" fill="#f29a1f"/>
<circle cx="26.8" cy="369.5" r="3.5" fill="#35a235"/><path d="M19.200000000000003,378.4 Q19.200000000000003,374.4 23.200000000000003,374.4 L30.4,374.4 Q34.4,374.4 34.4,378.4 L34.4,387.9 Q33.0,389.3 31.599999999999998,387.9 L31.599999999999998,379.4 L22.000000000000004,379.4 L22.000000000000004,387.9 Q20.6,389.3 19.200000000000003,387.9 Z" fill="#35a235"/><rect x="22.450000000000003" y="375.4" width="8.7" height="12.5" fill="#35a235"/><path d="M22.450000000000003,386.5 L26.400000000000002,386.5 L26.400000000000002,404.9 Q24.400000000000002,405.9 22.450000000000003,404.9 Z" fill="#35a235"/><path d="M27.2,386.5 L31.15,386.5 L31.15,404.9 Q29.2,405.9 27.2,404.9 Z" fill="#35a235"/>
<circle cx="47.900000000000006" cy="369.5" r="3.5" fill="#35a235"/><path d="M40.300000000000004,378.4 Q40.300000000000004,374.4 44.300000000000004,374.4 L51.50000000000001,374.4 Q55.50000000000001,374.4 55.50000000000001,378.4 L55.50000000000001,387.9 Q54.10000000000001,389.3 52.70000000000001,387.9 L52.70000000000001,379.4 L43.1,379.4 L43.1,387.9 Q41.7,389.3 40.300000000000004,387.9 Z" fill="#35a235"/><rect x="43.550000000000004" y="375.4" width="8.7" height="12.5" fill="#35a235"/><path d="M43.550000000000004,386.5 L47.50000000000001,386.5 L47.50000000000001,404.9 Q45.50000000000001,405.9 43.550000000000004,404.9 Z" fill="#35a235"/><path d="M48.300000000000004,386.5 L52.25000000000001,386.5 L52.25000000000001,404.9 Q50.300000000000004,405.9 48.300000000000004,404.9 Z" fill="#35a235"/>
<circle cx="69.0" cy="369.5" r="3.5" fill="#35a235"/><path d="M61.4,378.4 Q61.4,374.4 65.4,374.4 L72.6,374.4 Q76.6,374.4 76.6,378.4 L76.6,387.9 Q75.19999999999999,389.3 73.8,387.9 L73.8,379.4 L64.2,379.4 L64.2,387.9 Q62.8,389.3 61.4,387.9 Z" fill="#35a235"/><rect x="64.65" y="375.4" width="8.7" height="12.5" fill="#35a235"/><path d="M64.65,386.5 L68.6,386.5 L68.6,404.9 Q66.6,405.9 64.65,404.9 Z" fill="#35a235"/><path d="M69.4,386.5 L73.35,386.5 L73.35,404.9 Q71.4,405.9 69.4,404.9 Z" fill="#35a235"/>
<circle cx="90.10000000000001" cy="369.5" r="3.5" fill="#35a235"/><path d="M82.50000000000001,378.4 Q82.50000000000001,374.4 86.50000000000001,374.4 L93.7,374.4 Q97.7,374.4 97.7,378.4 L97.7,387.9 Q96.3,389.3 94.9,387.9 L94.9,379.4 L85.30000000000001,379.4 L85.30000000000001,387.9 Q83.90000000000002,389.3 82.50000000000001,387.9 Z" fill="#35a235"/><rect x="85.75000000000001" y="375.4" width="8.7" height="12.5" fill="#35a235"/><path d="M85.75000000000001,386.5 L89.7,386.5 L89.7,404.9 Q87.7,405.9 85.75000000000001,404.9 Z" fill="#35a235"/><path d="M90.50000000000001,386.5 L94.45,386.5 L94.45,404.9 Q92.50000000000001,405.9 90.50000000000001,404.9 Z" fill="#35a235"/>
<circle cx="111.2" cy="369.5" r="3.5" fill="#35a235"/><path d="M103.60000000000001,378.4 Q103.60000000000001,374.4 107.60000000000001,374.4 L114.8,374.4 Q118.8,374.4 118.8,378.4 L118.8,387.9 Q117.39999999999999,389.3 116.0,387.9 L116.0,379.4 L106.4,379.4 L106.4,387.9 Q105.00000000000001,389.3 103.60000000000001,387.9 Z" fill="#35a235"/><rect x="106.85000000000001" y="375.4" width="8.7" height="12.5" fill="#35a235"/><path d="M106.85000000000001,386.5 L110.8,386.5 L110.8,404.9 Q108.8,405.9 106.85000000000001,404.9 Z" fill="#35a235"/><path d="M111.60000000000001,386.5 L115.55,386.5 L115.55,404.9 Q113.60000000000001,405.9 111.60000000000001,404.9 Z" fill="#35a235"/>
<circle cx="132.3" cy="369.5" r="3.5" fill="#35a235"/><path d="M124.70000000000002,378.4 Q124.70000000000002,374.4 128.70000000000002,374.4 L135.9,374.4 Q139.9,374.4 139.9,378.4 L139.9,387.9 Q138.5,389.3 137.1,387.9 L137.1,379.4 L127.50000000000001,379.4 L127.50000000000001,387.9 Q126.10000000000002,389.3 124.70000000000002,387.9 Z" fill="#35a235"/><rect x="127.95000000000002" y="375.4" width="8.7" height="12.5" fill="#35a235"/><path d="M127.95000000000002,386.5 L131.9,386.5 L131.9,404.9 Q129.9,405.9 127.95000000000002,404.9 Z" fill="#35a235"/><path d="M132.70000000000002,386.5 L136.65,386.5 L136.65,404.9 Q134.70000000000002,405.9 132.70000000000002,404.9 Z" fill="#35a235"/>
<circle cx="153.4" cy="369.5" r="3.5" fill="#35a235"/><path d="M145.8,378.4 Q145.8,374.4 149.8,374.4 L157.0,374.4 Q161.0,374.4 161.0,378.4 L161.0,387.9 Q159.6,389.3 158.2,387.9 L158.2,379.4 L148.60000000000002,379.4 L148.60000000000002,387.9 Q147.20000000000002,389.3 145.8,387.9 Z" fill="#35a235"/><rect x="149.05" y="375.4" width="8.7" height="12.5" fill="#35a235"/><path d="M149.05,386.5 L153.0,386.5 L153.0,404.9 Q151.0,405.9 149.05,404.9 Z" fill="#35a235"/><path d="M153.8,386.5 L157.75,386.5 L157.75,404.9 Q155.8,405.9 153.8,404.9 Z" fill="#35a235"/>
<circle cx="174.50000000000003" cy="369.5" r="3.5" fill="#35a235"/><path d="M166.90000000000003,378.4 Q166.90000000000003,374.4 170.90000000000003,374.4 L178.10000000000002,374.4 Q182.10000000000002,374.4 182.10000000000002,378.4 L182.10000000000002,387.9 Q180.70000000000002,389.3 179.3,387.9 L179.3,379.4 L169.70000000000005,379.4 L169.70000000000005,387.9 Q168.30000000000004,389.3 166.90000000000003,387.9 Z" fill="#35a235"/><rect x="170.15000000000003" y="375.4" width="8.7" height="12.5" fill="#35a235"/><path d="M170.15000000000003,386.5 L174.10000000000002,386.5 L174.10000000000002,404.9 Q172.10000000000002,405.9 170.15000000000003,404.9 Z" fill="#35a235"/><path d="M174.90000000000003,386.5 L178.85000000000002,386.5 L178.85000000000002,404.9 Q176.90000000000003,405.9 174.90000000000003,404.9 Z" fill="#35a235"/>
<circle cx="195.60000000000002" cy="369.5" r="3.5" fill="#35a235"/><path d="M188.00000000000003,378.4 Q188.00000000000003,374.4 192.00000000000003,374.4 L199.20000000000002,374.4 Q203.20000000000002,374.4 203.20000000000002,378.4 L203.20000000000002,387.9 Q201.8,389.3 200.4,387.9 L200.4,379.4 L190.80000000000004,379.4 L190.80000000000004,387.9 Q189.40000000000003,389.3 188.00000000000003,387.9 Z" fill="#35a235"/><rect x="191.25000000000003" y="375.4" width="8.7" height="12.5" fill="#35a235"/><path d="M191.25000000000003,386.5 L195.20000000000002,386.5 L195.20000000000002,404.9 Q193.20000000000002,405.9 191.25000000000003,404.9 Z" fill="#35a235"/><path d="M196.00000000000003,386.5 L199.95000000000002,386.5 L199.95000000000002,404.9 Q198.00000000000003,405.9 196.00000000000003,404.9 Z" fill="#35a235"/>
<circle cx="216.70000000000002" cy="369.5" r="3.5" fill="#35a235"/><path d="M209.10000000000002,378.4 Q209.10000000000002,374.4 213.10000000000002,374.4 L220.3,374.4 Q224.3,374.4 224.3,378.4 L224.3,387.9 Q222.9,389.3 221.5,387.9 L221.5,379.4 L211.90000000000003,379.4 L211.90000000000003,387.9 Q210.50000000000003,389.3 209.10000000000002,387.9 Z" fill="#35a235"/><rect x="212.35000000000002" y="375.4" width="8.7" height="12.5" fill="#35a235"/><path d="M212.35000000000002,386.5 L216.3,386.5 L216.3,404.9 Q214.3,405.9 212.35000000000002,404.9 Z" fill="#35a235"/><path d="M217.10000000000002,386.5 L221.05,386.5 L221.05,404.9 Q219.10000000000002,405.9 217.10000000000002,404.9 Z" fill="#35a235"/>
<circle cx="237.8" cy="369.5" r="3.5" fill="#f29a1f"/><path d="M230.20000000000002,378.4 Q230.20000000000002,374.4 234.20000000000002,374.4 L241.4,374.4 Q245.4,374.4 245.4,378.4 L245.4,387.9 Q244.0,389.3 242.6,387.9 L242.6,379.4 L233.00000000000003,379.4 L233.00000000000003,387.9 Q231.60000000000002,389.3 230.20000000000002,387.9 Z" fill="#f29a1f"/><rect x="233.45000000000002" y="375.4" width="8.7" height="12.5" fill="#f29a1f"/><path d="M233.45000000000002,386.5 L237.4,386.5 L237.4,404.9 Q235.4,405.9 233.45000000000002,404.9 Z" fill="#f29a1f"/><path d="M238.20000000000002,386.5 L242.15,386.5 L242.15,404.9 Q240.20000000000002,405.9 238.20000000000002,404.9 Z" fill="#f29a1f"/>
<circle cx="258.90000000000003" cy="369.5" r="3.5" fill="#f29a1f"/><path d="M251.30000000000004,378.4 Q251.30000000000004,374.4 255.30000000000004,374.4 L262.50000000000006,374.4 Q266.50000000000006,374.4 266.50000000000006,378.4 L266.50000000000006,387.9 Q265.1000000000001,389.3 263.70000000000005,387.9 L263.70000000000005,379.4 L254.10000000000005,379.4 L254.10000000000005,387.9 Q252.70000000000005,389.3 251.30000000000004,387.9 Z" fill="#f29a1f"/><rect x="254.55000000000004" y="375.4" width="8.7" height="12.5" fill="#f29a1f"/><path d="M254.55000000000004,386.5 L258.50000000000006,386.5 L258.50000000000006,404.9 Q256.50000000000006,405.9 254.55000000000004,404.9 Z" fill="#f29a1f"/><path d="M259.3,386.5 L263.25000000000006,386.5 L263.25000000000006,404.9 Q261.3,405.9 259.3,404.9 Z" fill="#f29a1f"/>
<text x="26" y="420.8" font-size="9.8" text-anchor="start" fill="#6a9f68" stroke="#6a9f68" stroke-width="0.18" font-weight="normal" font-style="normal" textLength="21.6" lengthAdjust="spacingAndGlyphs" >≥ 0.7</text>
<text x="142.5" y="421" font-size="9.5" text-anchor="middle" fill="#222" stroke="#222" stroke-width="0.18" font-weight="normal" font-style="normal" textLength="73" lengthAdjust="spacingAndGlyphs" >GPIbM/VWF:Ag</text>
<text x="237" y="420.8" font-size="9.8" text-anchor="start" fill="#dc9f5c" stroke="#dc9f5c" stroke-width="0.18" font-weight="normal" font-style="normal" textLength="22.8" lengthAdjust="spacingAndGlyphs" >&lt; 0.7</text>
<text transform="translate(282.5,230.8) scale(1.05,1)" font-size="12.5" font-weight="bold" fill="#111">D</text>
<line x1="325.5" y1="252.3" x2="325.5" y2="394.6" stroke="#3a3a3a" stroke-width="1.3" />
<line x1="324.9" y1="394" x2="512.5" y2="394" stroke="#3a3a3a" stroke-width="1.3" />
<line x1="322" y1="393.9" x2="325.5" y2="393.9" stroke="#3a3a3a" stroke-width="1.1" />
<text x="319.5" y="396.9" font-size="8.6" text-anchor="end" fill="#2c2c2c" stroke="#2c2c2c" stroke-width="0.18" font-weight="normal" font-style="normal" >0</text>
<line x1="322" y1="366.25" x2="325.5" y2="366.25" stroke="#3a3a3a" stroke-width="1.1" />
<text x="319.5" y="369.25" font-size="8.6" text-anchor="end" fill="#2c2c2c" stroke="#2c2c2c" stroke-width="0.18" font-weight="normal" font-style="normal" >5</text>
<line x1="322" y1="338.59999999999997" x2="325.5" y2="338.59999999999997" stroke="#3a3a3a" stroke-width="1.1" />
<text x="319.5" y="341.59999999999997" font-size="8.6" text-anchor="end" fill="#2c2c2c" stroke="#2c2c2c" stroke-width="0.18" font-weight="normal" font-style="normal" >10</text>
<line x1="322" y1="310.95" x2="325.5" y2="310.95" stroke="#3a3a3a" stroke-width="1.1" />
<text x="319.5" y="313.95" font-size="8.6" text-anchor="end" fill="#2c2c2c" stroke="#2c2c2c" stroke-width="0.18" font-weight="normal" font-style="normal" >15</text>
<line x1="322" y1="283.29999999999995" x2="325.5" y2="283.29999999999995" stroke="#3a3a3a" stroke-width="1.1" />
<text x="319.5" y="286.29999999999995" font-size="8.6" text-anchor="end" fill="#2c2c2c" stroke="#2c2c2c" stroke-width="0.18" font-weight="normal" font-style="normal" >20</text>
<line x1="322" y1="255.64999999999998" x2="325.5" y2="255.64999999999998" stroke="#3a3a3a" stroke-width="1.1" />
<text x="319.5" y="258.65" font-size="8.6" text-anchor="end" fill="#2c2c2c" stroke="#2c2c2c" stroke-width="0.18" font-weight="normal" font-style="normal" >25</text>
<line x1="374.6" y1="394" x2="374.6" y2="396.8" stroke="#3a3a3a" stroke-width="1.0" />
<line x1="463.1" y1="394" x2="463.1" y2="396.8" stroke="#3a3a3a" stroke-width="1.0" />
<text transform="translate(304.3,324.2) rotate(-90)" x="0" y="0" font-size="9.6" text-anchor="middle" fill="#2c2c2c" stroke="#2c2c2c" stroke-width="0.18" textLength="84" lengthAdjust="spacingAndGlyphs">ISTH-BAT bleeding score</text>
<line x1="374.6" y1="249.4" x2="463.1" y2="249.4" stroke="#262626" stroke-width="1.3" />
<line x1="374.6" y1="247.2" x2="374.6" y2="251.7" stroke="#262626" stroke-width="1.2" />
<line x1="463.1" y1="247.2" x2="463.1" y2="251.7" stroke="#262626" stroke-width="1.2" />
<text x="403.4" y="244.7" font-size="8.6" fill="#2c2c2c" stroke="#2c2c2c" stroke-width="0.18" textLength="31" lengthAdjust="spacingAndGlyphs"><tspan font-style="italic">P</tspan> = .782</text>
<line x1="360" y1="324.5" x2="389.6" y2="324.5" stroke="#151515" stroke-width="1.35" />
<line x1="345.5" y1="348" x2="403.8" y2="348" stroke="#151515" stroke-width="1.35" />
<line x1="360" y1="371.5" x2="389.6" y2="371.5" stroke="#151515" stroke-width="1.35" />
<line x1="374.6" y1="324.5" x2="374.6" y2="371.5" stroke="#151515" stroke-width="1.2" />
<circle cx="374.60" cy="261.18" r="2.05" fill="#3aa83a"/>
<circle cx="373.10" cy="272.24" r="2.05" fill="#3aa83a"/>
<circle cx="376.10" cy="272.24" r="2.05" fill="#3aa83a"/>
<circle cx="373.10" cy="283.30" r="2.05" fill="#3aa83a"/>
<circle cx="376.10" cy="283.30" r="2.05" fill="#3aa83a"/>
<circle cx="371.60" cy="299.89" r="2.05" fill="#3aa83a"/>
<circle cx="374.60" cy="299.89" r="2.05" fill="#3aa83a"/>
<circle cx="377.60" cy="299.89" r="2.05" fill="#3aa83a"/>
<circle cx="371.60" cy="310.95" r="2.05" fill="#3aa83a"/>
<circle cx="374.60" cy="310.95" r="2.05" fill="#3aa83a"/>
<circle cx="377.60" cy="310.95" r="2.05" fill="#3aa83a"/>
<circle cx="373.10" cy="316.48" r="2.05" fill="#3aa83a"/>
<circle cx="376.10" cy="316.48" r="2.05" fill="#3aa83a"/>
<circle cx="373.10" cy="322.01" r="2.05" fill="#3aa83a"/>
<circle cx="376.10" cy="322.01" r="2.05" fill="#3aa83a"/>
<circle cx="370.10" cy="327.54" r="2.05" fill="#3aa83a"/>
<circle cx="373.10" cy="327.54" r="2.05" fill="#3aa83a"/>
<circle cx="376.10" cy="327.54" r="2.05" fill="#3aa83a"/>
<circle cx="379.10" cy="327.54" r="2.05" fill="#3aa83a"/>
<circle cx="361.10" cy="333.07" r="2.05" fill="#3aa83a"/>
<circle cx="364.10" cy="333.07" r="2.05" fill="#3aa83a"/>
<circle cx="367.10" cy="333.07" r="2.05" fill="#3aa83a"/>
<circle cx="370.10" cy="333.07" r="2.05" fill="#3aa83a"/>
<circle cx="373.10" cy="333.07" r="2.05" fill="#3aa83a"/>
<circle cx="376.10" cy="333.07" r="2.05" fill="#3aa83a"/>
<circle cx="379.10" cy="333.07" r="2.05" fill="#3aa83a"/>
<circle cx="382.10" cy="333.07" r="2.05" fill="#3aa83a"/>
<circle cx="385.10" cy="333.07" r="2.05" fill="#3aa83a"/>
<circle cx="388.10" cy="333.07" r="2.05" fill="#3aa83a"/>
<circle cx="365.60" cy="338.60" r="2.05" fill="#3aa83a"/>
<circle cx="368.60" cy="338.60" r="2.05" fill="#3aa83a"/>
<circle cx="371.60" cy="338.60" r="2.05" fill="#3aa83a"/>
<circle cx="374.60" cy="338.60" r="2.05" fill="#3aa83a"/>
<circle cx="377.60" cy="338.60" r="2.05" fill="#3aa83a"/>
<circle cx="380.60" cy="338.60" r="2.05" fill="#3aa83a"/>
<circle cx="383.60" cy="338.60" r="2.05" fill="#3aa83a"/>
<circle cx="361.10" cy="344.13" r="2.05" fill="#3aa83a"/>
<circle cx="364.10" cy="344.13" r="2.05" fill="#3aa83a"/>
<circle cx="367.10" cy="344.13" r="2.05" fill="#3aa83a"/>
<circle cx="370.10" cy="344.13" r="2.05" fill="#3aa83a"/>
<circle cx="373.10" cy="344.13" r="2.05" fill="#3aa83a"/>
<circle cx="376.10" cy="344.13" r="2.05" fill="#3aa83a"/>
<circle cx="379.10" cy="344.13" r="2.05" fill="#3aa83a"/>
<circle cx="382.10" cy="344.13" r="2.05" fill="#3aa83a"/>
<circle cx="385.10" cy="344.13" r="2.05" fill="#3aa83a"/>
<circle cx="388.10" cy="344.13" r="2.05" fill="#3aa83a"/>
<circle cx="361.10" cy="349.66" r="2.05" fill="#3aa83a"/>
<circle cx="364.10" cy="349.66" r="2.05" fill="#3aa83a"/>
<circle cx="367.10" cy="349.66" r="2.05" fill="#3aa83a"/>
<circle cx="370.10" cy="349.66" r="2.05" fill="#3aa83a"/>
<circle cx="373.10" cy="349.66" r="2.05" fill="#3aa83a"/>
<circle cx="376.10" cy="349.66" r="2.05" fill="#3aa83a"/>
<circle cx="379.10" cy="349.66" r="2.05" fill="#3aa83a"/>
<circle cx="382.10" cy="349.66" r="2.05" fill="#3aa83a"/>
<circle cx="385.10" cy="349.66" r="2.05" fill="#3aa83a"/>
<circle cx="388.10" cy="349.66" r="2.05" fill="#3aa83a"/>
<circle cx="347.60" cy="355.19" r="2.05" fill="#3aa83a"/>
<circle cx="350.60" cy="355.19" r="2.05" fill="#3aa83a"/>
<circle cx="353.60" cy="355.19" r="2.05" fill="#3aa83a"/>
<circle cx="356.60" cy="355.19" r="2.05" fill="#3aa83a"/>
<circle cx="359.60" cy="355.19" r="2.05" fill="#3aa83a"/>
<circle cx="362.60" cy="355.19" r="2.05" fill="#3aa83a"/>
<circle cx="365.60" cy="355.19" r="2.05" fill="#3aa83a"/>
<circle cx="368.60" cy="355.19" r="2.05" fill="#3aa83a"/>
<circle cx="371.60" cy="355.19" r="2.05" fill="#3aa83a"/>
<circle cx="374.60" cy="355.19" r="2.05" fill="#3aa83a"/>
<circle cx="377.60" cy="355.19" r="2.05" fill="#3aa83a"/>
<circle cx="380.60" cy="355.19" r="2.05" fill="#3aa83a"/>
<circle cx="383.60" cy="355.19" r="2.05" fill="#3aa83a"/>
<circle cx="386.60" cy="355.19" r="2.05" fill="#3aa83a"/>
<circle cx="389.60" cy="355.19" r="2.05" fill="#3aa83a"/>
<circle cx="392.60" cy="355.19" r="2.05" fill="#3aa83a"/>
<circle cx="395.60" cy="355.19" r="2.05" fill="#3aa83a"/>
<circle cx="398.60" cy="355.19" r="2.05" fill="#3aa83a"/>
<circle cx="401.60" cy="355.19" r="2.05" fill="#3aa83a"/>
<circle cx="353.60" cy="360.72" r="2.05" fill="#3aa83a"/>
<circle cx="356.60" cy="360.72" r="2.05" fill="#3aa83a"/>
<circle cx="359.60" cy="360.72" r="2.05" fill="#3aa83a"/>
<circle cx="362.60" cy="360.72" r="2.05" fill="#3aa83a"/>
<circle cx="365.60" cy="360.72" r="2.05" fill="#3aa83a"/>
<circle cx="368.60" cy="360.72" r="2.05" fill="#3aa83a"/>
<circle cx="371.60" cy="360.72" r="2.05" fill="#3aa83a"/>
<circle cx="374.60" cy="360.72" r="2.05" fill="#3aa83a"/>
<circle cx="377.60" cy="360.72" r="2.05" fill="#3aa83a"/>
<circle cx="380.60" cy="360.72" r="2.05" fill="#3aa83a"/>
<circle cx="383.60" cy="360.72" r="2.05" fill="#3aa83a"/>
<circle cx="386.60" cy="360.72" r="2.05" fill="#3aa83a"/>
<circle cx="389.60" cy="360.72" r="2.05" fill="#3aa83a"/>
<circle cx="392.60" cy="360.72" r="2.05" fill="#3aa83a"/>
<circle cx="395.60" cy="360.72" r="2.05" fill="#3aa83a"/>
<circle cx="370.10" cy="366.25" r="2.05" fill="#3aa83a"/>
<circle cx="373.10" cy="366.25" r="2.05" fill="#3aa83a"/>
<circle cx="376.10" cy="366.25" r="2.05" fill="#3aa83a"/>
<circle cx="379.10" cy="366.25" r="2.05" fill="#3aa83a"/>
<circle cx="359.60" cy="371.78" r="2.05" fill="#3aa83a"/>
<circle cx="362.60" cy="371.78" r="2.05" fill="#3aa83a"/>
<circle cx="365.60" cy="371.78" r="2.05" fill="#3aa83a"/>
<circle cx="368.60" cy="371.78" r="2.05" fill="#3aa83a"/>
<circle cx="371.60" cy="371.78" r="2.05" fill="#3aa83a"/>
<circle cx="374.60" cy="371.78" r="2.05" fill="#3aa83a"/>
<circle cx="377.60" cy="371.78" r="2.05" fill="#3aa83a"/>
<circle cx="380.60" cy="371.78" r="2.05" fill="#3aa83a"/>
<circle cx="383.60" cy="371.78" r="2.05" fill="#3aa83a"/>
<circle cx="386.60" cy="371.78" r="2.05" fill="#3aa83a"/>
<circle cx="389.60" cy="371.78" r="2.05" fill="#3aa83a"/>
<circle cx="359.60" cy="377.31" r="2.05" fill="#3aa83a"/>
<circle cx="362.60" cy="377.31" r="2.05" fill="#3aa83a"/>
<circle cx="365.60" cy="377.31" r="2.05" fill="#3aa83a"/>
<circle cx="368.60" cy="377.31" r="2.05" fill="#3aa83a"/>
<circle cx="371.60" cy="377.31" r="2.05" fill="#3aa83a"/>
<circle cx="374.60" cy="377.31" r="2.05" fill="#3aa83a"/>
<circle cx="377.60" cy="377.31" r="2.05" fill="#3aa83a"/>
<circle cx="380.60" cy="377.31" r="2.05" fill="#3aa83a"/>
<circle cx="383.60" cy="377.31" r="2.05" fill="#3aa83a"/>
<circle cx="386.60" cy="377.31" r="2.05" fill="#3aa83a"/>
<circle cx="389.60" cy="377.31" r="2.05" fill="#3aa83a"/>
<line x1="448.3" y1="328" x2="478.2" y2="328" stroke="#151515" stroke-width="1.35" />
<line x1="436.5" y1="349.2" x2="493" y2="349.2" stroke="#151515" stroke-width="1.35" />
<line x1="448.3" y1="371.3" x2="478.2" y2="371.3" stroke="#151515" stroke-width="1.35" />
<line x1="463.1" y1="328" x2="463.1" y2="371.3" stroke="#151515" stroke-width="1.2" />
<circle cx="458.93" cy="299.89" r="2.15" fill="#f0921f"/>
<circle cx="467.28" cy="299.89" r="2.15" fill="#f0921f"/>
<circle cx="463.10" cy="322.01" r="2.15" fill="#f0921f"/>
<circle cx="458.93" cy="327.54" r="2.15" fill="#f0921f"/>
<circle cx="467.28" cy="327.54" r="2.15" fill="#f0921f"/>
<circle cx="458.93" cy="338.60" r="2.15" fill="#f0921f"/>
<circle cx="467.28" cy="338.60" r="2.15" fill="#f0921f"/>
<circle cx="463.10" cy="344.13" r="2.15" fill="#f0921f"/>
<circle cx="446.40" cy="349.66" r="2.15" fill="#f0921f"/>
<circle cx="454.75" cy="349.66" r="2.15" fill="#f0921f"/>
<circle cx="463.10" cy="349.66" r="2.15" fill="#f0921f"/>
<circle cx="471.45" cy="349.66" r="2.15" fill="#f0921f"/>
<circle cx="479.80" cy="349.66" r="2.15" fill="#f0921f"/>
<circle cx="454.75" cy="355.19" r="2.15" fill="#f0921f"/>
<circle cx="463.10" cy="355.19" r="2.15" fill="#f0921f"/>
<circle cx="471.45" cy="355.19" r="2.15" fill="#f0921f"/>
<circle cx="450.58" cy="360.72" r="2.15" fill="#f0921f"/>
<circle cx="458.93" cy="360.72" r="2.15" fill="#f0921f"/>
<circle cx="467.28" cy="360.72" r="2.15" fill="#f0921f"/>
<circle cx="475.62" cy="360.72" r="2.15" fill="#f0921f"/>
<circle cx="463.10" cy="371.78" r="2.15" fill="#f0921f"/>
<circle cx="450.58" cy="377.31" r="2.15" fill="#f0921f"/>
<circle cx="458.93" cy="377.31" r="2.15" fill="#f0921f"/>
<circle cx="467.28" cy="377.31" r="2.15" fill="#f0921f"/>
<circle cx="475.62" cy="377.31" r="2.15" fill="#f0921f"/>
<text x="375" y="407.8" font-size="8.6" text-anchor="middle" fill="#2c2c2c" stroke="#2c2c2c" stroke-width="0.18" font-weight="normal" font-style="normal" textLength="40.7" lengthAdjust="spacingAndGlyphs" >GPIbM/Ag</text>
<text x="374" y="417.7" font-size="8.6" text-anchor="middle" fill="#2c2c2c" stroke="#2c2c2c" stroke-width="0.18" font-weight="normal" font-style="normal" textLength="37" lengthAdjust="spacingAndGlyphs" >ratio ≥ 0.7</text>
<text x="463.3" y="407.8" font-size="8.6" text-anchor="middle" fill="#2c2c2c" stroke="#2c2c2c" stroke-width="0.18" font-weight="normal" font-style="normal" textLength="40.7" lengthAdjust="spacingAndGlyphs" >GPIbM/Ag</text>
<text x="462.9" y="417.7" font-size="8.6" text-anchor="middle" fill="#2c2c2c" stroke="#2c2c2c" stroke-width="0.18" font-weight="normal" font-style="normal" textLength="38" lengthAdjust="spacingAndGlyphs" >ratio &lt; 0.7</text>
<rect x="0.5" y="0.5" width="519" height="429" fill="none" stroke="#626262" stroke-width="1"/>
</svg>
</body></html>
